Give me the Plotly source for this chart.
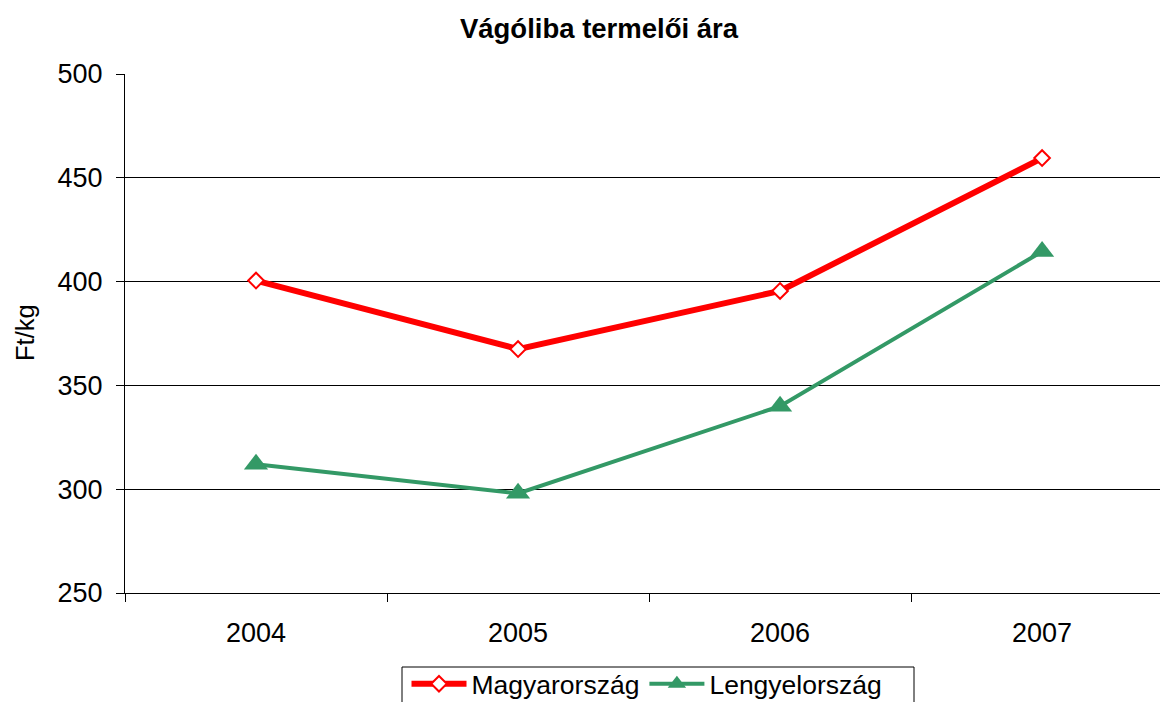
import plotly.graph_objects as go

years = ["2004", "2005", "2006", "2007"]
magyar = [400.5, 367.5, 395.5, 459.5]
lengyel = [312, 298, 340, 414.5]
y_ticks = [250, 300, 350, 400, 450, 500]

FONT = "Liberation Sans, Arial, sans-serif"

fig = go.Figure()
fig.add_trace(go.Scatter(
    x=years, y=magyar, name="Magyarország", mode="lines+markers",
    line=dict(color="#FF0000", width=6),
    marker=dict(symbol="diamond", size=12, color="white",
                line=dict(color="#FF0000", width=2)),
))
fig.add_trace(go.Scatter(
    x=years, y=lengyel, name="Lengyelország", mode="lines+markers",
    line=dict(color="#339966", width=4),
    marker=dict(symbol="triangle-up", size=21, color="#339966",
                line=dict(width=0)),
))

PW, PH, L, T = 1035, 519, 125, 74
def px_x(x): return (x - L) / PW
def px_y(y): return (T + PH - y) / PH

fig.update_layout(
    width=1160, height=702,
    margin=dict(l=125, r=0, t=74, b=109, autoexpand=False),
    paper_bgcolor="white", plot_bgcolor="white",
    font=dict(family=FONT, size=27, color="black"),
    title=dict(text="<b>Vágóliba termelői ára</b>", x=599/1160, xref="container",
               xanchor="center", y=1 - 28/702, yref="container", yanchor="middle",
               font=dict(size=27.5, family=FONT, color="black")),
    showlegend=True,
    legend=dict(orientation="h", x=px_x(647), xanchor="center",
                y=px_y(660), yanchor="top",
                borderwidth=0, bgcolor="rgba(0,0,0,0)",
                font=dict(size=26.5, family=FONT), traceorder="normal",
                itemwidth=55),
    xaxis=dict(type="category", range=[-0.5, 3.45], tickson="boundaries",
               ticks="outside", ticklen=8, tickcolor="black",
               showline=True, linecolor="black", linewidth=1,
               showgrid=False, tickfont=dict(size=27), ticklabelstandoff=16),
    yaxis=dict(range=[250, 500], tickvals=y_ticks, ticks="outside", ticklen=8,
               tickcolor="black", showline=True, linecolor="black", linewidth=1,
               showgrid=True, gridcolor="black", gridwidth=1,
               zeroline=False, tickfont=dict(size=27), ticklabelstandoff=8),
    annotations=[dict(text="Ft/kg", x=px_x(25), xref="paper",
                      y=px_y(333), yref="paper",
                      xanchor="center", yanchor="middle",
                      showarrow=False, textangle=-90, font=dict(size=25.5))],
    shapes=[dict(type="rect", xref="paper", yref="paper",
                 x0=px_x(402), x1=px_x(914), y0=px_y(667), y1=px_y(720),
                 line=dict(color="black", width=1), fillcolor="rgba(0,0,0,0)",
                 layer="below")],
)

fig.write_html("out.html", config={"displayModeBar": False},
               post_script="document.body.style.margin='0';document.body.style.overflow='hidden';")
